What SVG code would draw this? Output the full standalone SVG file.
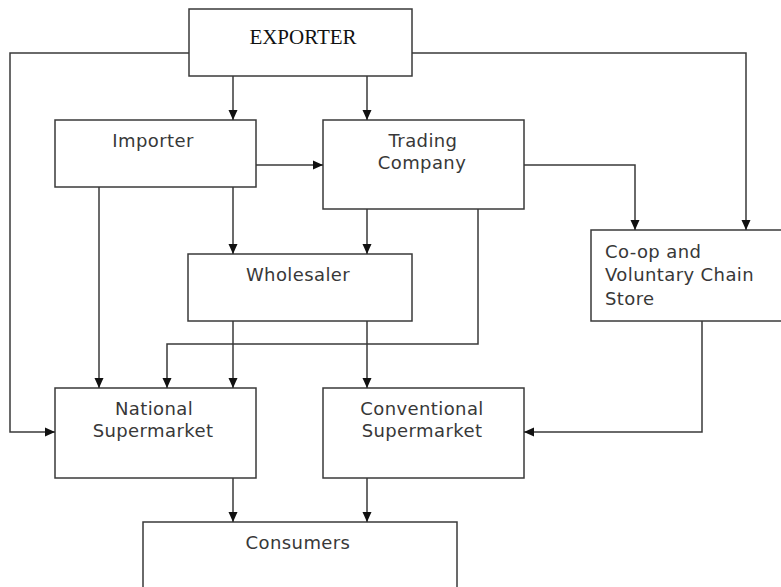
<svg xmlns="http://www.w3.org/2000/svg" width="781" height="587" viewBox="0 0 781 587">
<style>
.box{fill:#fff;stroke:#3a3a3a;stroke-width:1.5}
.t{font-family:"DejaVu Sans",Verdana,sans-serif;font-size:18px;fill:#383838;letter-spacing:0.4px}
.c{text-anchor:middle}
.ser{font-family:"Liberation Serif","Times New Roman",serif;font-size:21px;fill:#111;text-anchor:middle}
.ln{fill:none;stroke:#3a3a3a;stroke-width:1.5}
</style>
<defs>
<marker id="ah" markerUnits="userSpaceOnUse" markerWidth="10" markerHeight="10" viewBox="0 0 10 10" refX="10" refY="5" orient="auto">
<path d="M0,0.5 L10,5 L0,9.5 Z" fill="#111"/>
</marker>
</defs>
<rect width="781" height="587" fill="#fff"/>
<g id="exporter"><rect class="box" x="189" y="9" width="223" height="67"/><text class="ser" x="303" y="44">EXPORTER</text></g>
<g id="importer"><rect class="box" x="55" y="120" width="201" height="67"/><text class="t c" x="153" y="147">Importer</text></g>
<g id="trading"><rect class="box" x="323" y="120" width="201" height="89"/><text class="t c" x="423" y="147">Trading</text><text class="t c" x="422" y="169">Company</text></g>
<g id="wholesaler"><rect class="box" x="188" y="254" width="224" height="67"/><text class="t c" x="298" y="281">Wholesaler</text></g>
<g id="coop"><rect class="box" x="591" y="230" width="200" height="91"/><text class="t" x="605" y="258">Co-op and</text><text class="t" x="605" y="281">Voluntary Chain</text><text class="t" x="605" y="305">Store</text></g>
<g id="national"><rect class="box" x="55" y="388" width="201" height="90"/><text class="t c" x="154" y="415">National</text><text class="t c" x="153" y="437">Supermarket</text></g>
<g id="conventional"><rect class="box" x="323" y="388" width="201" height="90"/><text class="t c" x="422" y="415">Conventional</text><text class="t c" x="422" y="437">Supermarket</text></g>
<g id="consumers"><rect class="box" x="143" y="522" width="314" height="80"/><text class="t c" x="298" y="549">Consumers</text></g>
<g id="connectors" class="ln" marker-end="url(#ah)">
<path d="M233,76 V120"/>
<path d="M367,76 V120"/>
<path d="M189,53 H10 V432 H55"/>
<path d="M412,53 H746 V230"/>
<path d="M256,165 H323"/>
<path d="M524,165 H635 V230"/>
<path d="M99,187 V388"/>
<path d="M233,187 V254"/>
<path d="M367,209 V254"/>
<path d="M478,209 V344 H167 V388"/>
<path d="M233,321 V388"/>
<path d="M367,321 V388"/>
<path d="M702,321 V432 H524"/>
<path d="M233,478 V522"/>
<path d="M367,478 V522"/>
</g>
</svg>
